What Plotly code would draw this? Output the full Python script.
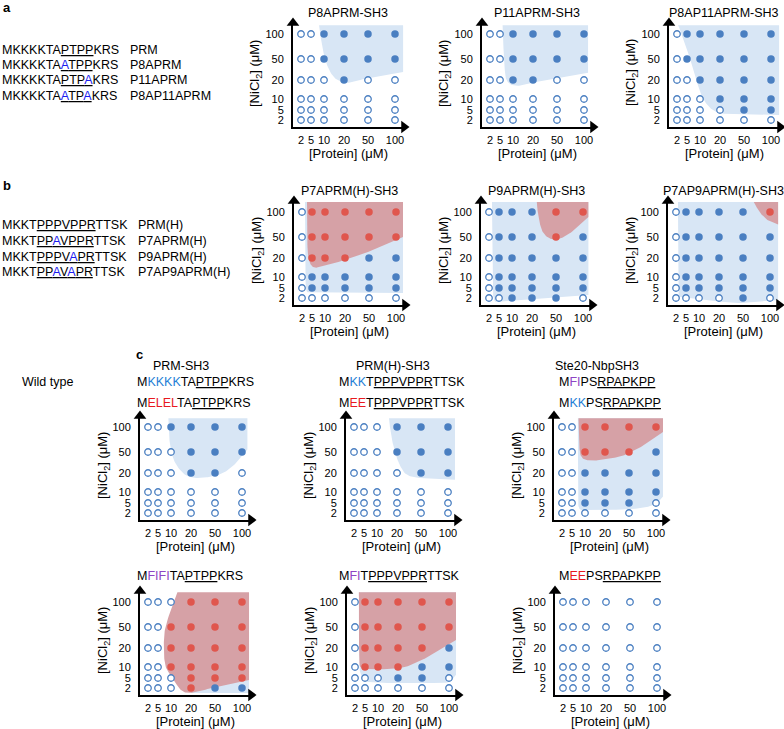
import numpy as np
import plotly.graph_objects as go

W, H = 784, 729
FONT = "Liberation Sans, Arial, Helvetica, sans-serif"

# ------------------------------------------------------------------ data
CONC_TICKS = ["2", "5", "10", "20", "50", "100"]      # protein / NiCl2 (uM)
NICL2_ROWS = ["100", "50", "20", "10", "5", "2"]      # row order of grids below

# peptide sequences
A_SEQS = ["MKKKKTAPTPPKRS", "MKKKKTAATPPKRS", "MKKKKTAPTPAKRS", "MKKKKTAATPAKRS"]
A_NAMES = ["PRM", "P8APRM", "P11APRM", "P8AP11APRM"]
B_SEQS = ["MKKTPPPVPPRTTSK", "MKKTPPAVPPRTTSK", "MKKTPPPVAPRTTSK", "MKKTPPAVAPRTTSK"]
B_NAMES = ["PRM(H)", "P7APRM(H)", "P9APRM(H)", "P7AP9APRM(H)"]

C_TITLES = ["PRM-SH3", "PRM(H)-SH3", "Ste20-NbpSH3"]
C_WILD = ["MKKKKTAPTPPKRS", "MKKTPPPVPPRTTSK", "MFIPSRPAPKPP"]
C_MUT1 = ["MELELTAPTPPKRS", "MEETPPPVPPRTTSK", "MKKPSRPAPKPP"]
C_MUT2 = ["MFIFITAPTPPKRS", "MFITPPPVPPRTTSK", "MEEPSRPAPKPP"]

# phase state grids: 0 = none (open), 1 = droplets (blue), 2 = red phase
STATES = {
    "P8APRM-SH3":       ["001111", "001111", "000100", "000000", "000000", "000000"],
    "P11APRM-SH3":      ["001111", "001111", "001100", "000000", "000000", "000000"],
    "P8AP11APRM-SH3":   ["011111", "011111", "001111", "000111", "000011", "000000"],
    "P7APRM(H)-SH3":    ["022222", "022222", "022211", "011111", "011111", "000000"],
    "P9APRM(H)-SH3":    ["011122", "011121", "011111", "011111", "011111", "001110"],
    "P7AP9APRM(H)-SH3": ["011112", "011111", "011111", "011111", "011111", "000010"],
    "ELEL-PRM":         ["001111", "000111", "000110", "000000", "000000", "000000"],
    "EE-PRM(H)":        ["000111", "000111", "000011", "000000", "000000", "000000"],
    "KK-Ste20":         ["002222", "002221", "001111", "001111", "001110", "000000"],
    "FIFI-PRM":         ["000222", "002222", "002222", "002222", "000222", "000211"],
    "FI-PRM(H)":        ["022222", "022222", "022221", "022211", "000110", "000000"],
    "EE-Ste20":         ["000000", "000000", "000000", "000000", "000000", "000000"],
}

# phase regions in grid units (fractional index along CONC_TICKS: protein, NiCl2)
# each region: (kind, straight edge points, curved boundary points)
REGIONS = {
    "P8APRM-SH3": [("blue", [(1.62, 5.35), (5.3, 5.35), (5.3, 3.38)],
                    [(5.3, 3.38), (4.0, 3.1), (3.2, 2.85), (2.6, 3.05), (2.2, 3.6), (1.9, 4.4), (1.62, 5.35)])],
    "P11APRM-SH3": [("blue", [(1.2, 5.35), (5.15, 5.35), (5.15, 3.35)],
                     [(5.15, 3.35), (3.5, 3.0), (2.3, 2.7), (1.6, 2.9), (1.35, 3.6), (1.2, 5.35)])],
    "P8AP11APRM-SH3": [("blue", [(0.1, 5.35), (5.3, 5.35), (5.3, 0.5)],
                        [(5.3, 0.5), (4.0, 0.55), (3.0, 0.7), (2.4, 1.4), (2.0, 2.4), (1.5, 3.5),
                         (0.9, 4.5), (0.4, 5.1), (0.1, 5.35)])],
    "P7APRM(H)-SH3": [("blue", [(0.3, 5.4), (5.26, 5.4), (5.26, 0.5), (1.2, 0.5)],
                       [(1.2, 0.5), (0.6, 0.55), (0.42, 0.9), (0.35, 2.0), (0.3, 5.4)]),
                      ("red", [(0.5, 5.4), (5.26, 5.4), (5.26, 4.0)],
                       [(5.26, 4.0), (4.2, 3.4), (3.0, 2.9), (2.0, 2.6), (1.2, 2.5), (0.75, 2.8),
                        (0.55, 3.5), (0.5, 5.4)])],
    "P9APRM(H)-SH3": [("blue", [(0.3, 5.4), (5.2, 5.4), (5.2, 0.3)],
                       [(5.2, 0.3), (3.5, 0.0), (1.5, -0.3), (0.75, -0.4), (0.5, -0.1), (0.4, 1.0), (0.3, 5.4)]),
                      ("red", [(3.2, 5.4), (5.2, 5.4), (5.2, 4.8)],
                       [(5.2, 4.8), (4.7, 4.3), (4.2, 3.95), (3.8, 3.9), (3.45, 4.2), (3.27, 4.8), (3.2, 5.4)])],
    "P7AP9APRM(H)-SH3": [("blue", [(0.2, 5.4), (5.3, 5.4), (5.3, -0.2)],
                          [(5.3, -0.2), (4.0, -0.5), (2.7, -0.3), (1.2, 0.0), (0.4, 0.15), (0.25, 1.0), (0.2, 5.4)]),
                         ("red", [(4.4, 5.4), (5.3, 5.4), (5.3, 4.5)],
                          [(5.3, 4.5), (4.95, 4.65), (4.65, 4.95), (4.45, 5.3), (4.4, 5.4)])],
    "ELEL-PRM": [("blue", [(1.8, 5.35), (5.2, 5.35), (5.2, 4.1)],
                  [(5.2, 4.1), (4.8, 3.5), (4.3, 3.0), (3.7, 2.78), (3.1, 2.75), (2.6, 3.0), (2.15, 3.6),
                   (1.9, 4.4), (1.8, 5.35)])],
    "EE-PRM(H)": [("blue", [(2.6, 5.35), (5.26, 5.35), (5.26, 2.65)],
                   [(5.26, 2.65), (4.3, 2.7), (3.5, 2.85), (3.15, 3.3), (2.9, 4.0), (2.7, 4.7), (2.6, 5.35)])],
    "KK-Ste20": [("blue", [(1.45, 5.35), (5.26, 5.35), (5.26, 1.6)],
                  [(5.26, 1.6), (5.0, 0.9), (4.3, 0.45), (3.0, 0.3), (1.8, 0.3), (1.55, 0.6), (1.48, 1.5), (1.45, 5.35)]),
                 ("red", [(1.5, 5.35), (5.26, 5.35), (5.26, 4.8)],
                  [(5.26, 4.8), (4.6, 4.3), (3.8, 3.85), (3.0, 3.65), (2.2, 3.6), (1.7, 3.8), (1.55, 4.4), (1.5, 5.35)])],
    "FIFI-PRM": [("blue", [(3.0, 1.5), (5.26, 1.5), (5.26, -0.5), (3.0, -0.5)],
                  [(3.0, -0.5), (3.0, 1.5)]),
                 ("red", [(2.32, 5.39), (5.26, 5.39), (5.26, 0.8)],
                  [(5.26, 0.8), (4.1, 0.15), (3.03, -0.47), (2.5, -0.2), (2.1, 0.97), (1.6, 2.0), (1.45, 3.0),
                   (1.6, 4.05), (2.32, 5.39)])],
    "FI-PRM(H)": [("blue", [(0.39, 5.39), (5.26, 5.39), (5.26, 1.3)],
                   [(5.26, 1.3), (5.0, 0.6), (4.3, 0.5), (3.0, 0.5), (1.6, 0.55), (1.0, 0.75), (0.6, 1.3),
                    (0.45, 2.2), (0.39, 5.39)]),
                  ("red", [(0.39, 5.39), (5.26, 5.39), (5.26, 3.38)],
                   [(5.26, 3.38), (4.5, 2.75), (4.0, 2.37), (3.3, 2.0), (2.5, 1.82), (1.2, 1.8), (0.6, 1.95),
                    (0.42, 2.6), (0.39, 5.39)])],
    "EE-Ste20": [],
}

# ------------------------------------------------------------------ scale / layout
X_SCALE = [8, 18, 31, 51, 75, 102]   # axis units of the six concentration steps
Y_SCALE = [7, 17, 28, 47, 68, 93]
LX, LY = 114, 107                    # axis lengths (1 unit = 1 px)

PANELS = [  # key, title, axis origin (px)
    ("P8APRM-SH3", "P8APRM-SH3", (293, 127)),
    ("P11APRM-SH3", "P11APRM-SH3", (482, 127)),
    ("P8AP11APRM-SH3", "P8AP11APRM-SH3", (669, 127)),
    ("P7APRM(H)-SH3", "P7APRM(H)-SH3", (294, 305)),
    ("P9APRM(H)-SH3", "P9APRM(H)-SH3", (481, 305)),
    ("P7AP9APRM(H)-SH3", "P7AP9APRM(H)-SH3", (668, 305)),
    ("ELEL-PRM", None, (140, 520)),
    ("EE-PRM(H)", None, (346, 520)),
    ("KK-Ste20", None, (554, 520)),
    ("FIFI-PRM", None, (140, 695)),
    ("FI-PRM(H)", None, (347, 695)),
    ("EE-Ste20", None, (555, 695)),
]

BLUE = "#4a7fc1"
RED = "#e0564d"
REGION_COL = {"blue": "#d8e6f5", "red": "#d6a1a6"}
MUT_A = "#1c1cf0"
RES_COL = {"K": "#1f7fd6", "E": "#e8191f", "L": "#e8191f", "F": "#8e44c4", "I": "#8e44c4"}


def scale(idx, table):
    idx = np.asarray(idx, float)
    t = np.asarray(table, float)
    out = np.interp(idx, np.arange(len(t)), t)
    hi = idx > len(t) - 1
    out[hi] = t[-1] + (idx[hi] - (len(t) - 1)) * (t[-1] - t[-2])
    lo = idx < 0
    out[lo] = t[0] + idx[lo] * (t[1] - t[0])
    return out


def catmull(pts, n=14):
    P = np.asarray(pts, float)
    P = np.vstack([P[0], P, P[-1]])
    out = []
    for k in range(1, len(P) - 2):
        p0, p1, p2, p3 = P[k - 1], P[k], P[k + 1], P[k + 2]
        for t in np.linspace(0, 1, n, endpoint=False):
            out.append(0.5 * (2 * p1 + (-p0 + p2) * t + (2 * p0 - 5 * p1 + 4 * p2 - p3) * t * t
                              + (-p0 + 3 * p1 - 3 * p2 + p3) * t ** 3))
    out.append(P[-2])
    return np.array(out)


def to_px(pts):
    a = np.asarray(pts, float)
    return np.column_stack([scale(a[:, 0], X_SCALE), scale(a[:, 1], Y_SCALE)])


def px(x, y):
    return x / W, 1 - y / H


fig = go.Figure()
annotations = []

for n, (key, title, (ox, oy)) in enumerate(PANELS, start=1):
    sx = "" if n == 1 else str(n)
    xa, ya = "x" + sx, "y" + sx
    fig.layout["xaxis" + sx] = dict(
        domain=[ox / W, (ox + LX) / W], range=[0, LX], anchor=ya,
        showgrid=False, zeroline=False, showline=True, linewidth=2, linecolor="black",
        ticks="", tickvals=X_SCALE, ticktext=CONC_TICKS, tickangle=0,
        tickfont=dict(family=FONT, size=11, color="black"), ticklabelstandoff=2,
        fixedrange=True)
    fig.layout["yaxis" + sx] = dict(
        domain=[1 - oy / H, 1 - (oy - LY) / H], range=[0, LY], anchor=xa,
        showgrid=False, zeroline=False, showline=True, linewidth=2, linecolor="black",
        ticks="", tickvals=Y_SCALE, ticktext=CONC_TICKS,
        tickfont=dict(family=FONT, size=11, color="black"), ticklabelstandoff=5,
        fixedrange=True)

    # regions
    for kind, edge, curve in REGIONS[key]:
        e = to_px(edge)
        c = catmull(to_px(curve))
        poly = np.vstack([e[:-1], c])
        fig.add_trace(go.Scatter(x=poly[:, 0], y=poly[:, 1], mode="lines", fill="toself",
                                 fillcolor=REGION_COL[kind], line=dict(width=0),
                                 hoverinfo="skip", showlegend=False, xaxis=xa, yaxis=ya))

    # dots
    grid = STATES[key]
    pts = {0: ([], []), 1: ([], []), 2: ([], [])}
    for r, row in enumerate(grid):
        yi = CONC_TICKS.index(NICL2_ROWS[r])
        for ci, s in enumerate(row):
            pts[int(s)][0].append(X_SCALE[ci])
            pts[int(s)][1].append(Y_SCALE[yi])
    fig.add_trace(go.Scatter(x=pts[0][0], y=pts[0][1], mode="markers", xaxis=xa, yaxis=ya,
                             marker=dict(size=6.5, color="white", line=dict(color=BLUE, width=1.3)),
                             hoverinfo="skip", showlegend=False, cliponaxis=False))
    fig.add_trace(go.Scatter(x=pts[1][0], y=pts[1][1], mode="markers", xaxis=xa, yaxis=ya,
                             marker=dict(size=7.5, color=BLUE, line=dict(width=0)),
                             hoverinfo="skip", showlegend=False, cliponaxis=False))
    fig.add_trace(go.Scatter(x=pts[2][0], y=pts[2][1], mode="markers", xaxis=xa, yaxis=ya,
                             marker=dict(size=7.5, color=RED, line=dict(width=0)),
                             hoverinfo="skip", showlegend=False, cliponaxis=False))

    # arrow heads on the axes
    fig.add_trace(go.Scatter(x=[LX - 3], y=[0], mode="markers", xaxis=xa, yaxis=ya,
                             marker=dict(symbol="triangle-right", size=11, color="black"),
                             hoverinfo="skip", showlegend=False, cliponaxis=False))
    fig.add_trace(go.Scatter(x=[0], y=[LY - 3], mode="markers", xaxis=xa, yaxis=ya,
                             marker=dict(symbol="triangle-up", size=11, color="black"),
                             hoverinfo="skip", showlegend=False, cliponaxis=False))

    # axis titles
    x0, y0 = px(ox + 55, oy + 26)
    annotations.append(dict(x=x0, y=y0, xref="paper", yref="paper", text="[Protein] (\u03bcM)",
                            showarrow=False, font=dict(family=FONT, size=13, color="black"),
                            xanchor="center", yanchor="middle"))
    x0, y0 = px(ox - 37, oy - 54)
    annotations.append(dict(x=x0, y=y0, xref="paper", yref="paper",
                            text="[NiCl<sub>2</sub>] (\u03bcM)", textangle=-90,
                            showarrow=False, font=dict(family=FONT, size=13, color="black"),
                            xanchor="center", yanchor="middle"))
    if title:
        x0, y0 = px(ox + 55, oy - 114)
        annotations.append(dict(x=x0, y=y0, xref="paper", yref="paper", text=title,
                                showarrow=False, font=dict(family=FONT, size=12.5, color="black"),
                                xanchor="center", yanchor="middle"))


def seq_html(seq, colors, ul):
    out = ""
    for i, ch in enumerate(seq):
        if i == ul[0]:
            out += "<u>"
        col = colors.get(i)
        out += f'<span style="color:{col}">{ch}</span>' if col else ch
        if i == ul[1]:
            out += "</u>"
    return out


def text(x, y, s, size=12.5, anchor="left", bold=False):
    x0, y0 = px(x, y)
    if bold:
        s = f"<b>{s}</b>"
    annotations.append(dict(x=x0, y=y0, xref="paper", yref="paper", text=s, showarrow=False,
                            font=dict(family=FONT, size=size, color="black"),
                            xanchor=anchor, yanchor="middle"))


# panel a / b sequence lists
for seqs, names, ys, name_x, ul in [
        (A_SEQS, A_NAMES, [50, 65, 80, 96], 128, (7, 10)),
        (B_SEQS, B_NAMES, [225, 241, 257, 272], 136, (4, 10))]:
    wt = seqs[0]
    for s, nm, y in zip(seqs, names, ys):
        cols = {i: MUT_A for i, (a, b) in enumerate(zip(s, wt)) if a != b}
        text(0, y, seq_html(s, cols, ul))
        text(name_x, y, nm)

# panel c sequences
C_BLOCK = [4, 2, 2]
C_UL = [(7, 10), (4, 10), (5, 11)]
C_X = [135, 337, 557]
C_TITLE_X = [181, 393, 597]
for k in range(3):
    def cols_for(s):
        return {i: RES_COL[s[i]] for i in range(1, 1 + C_BLOCK[k]) if s[i] in RES_COL}
    text(C_TITLE_X[k], 366, C_TITLES[k], anchor="center")
    text(C_X[k], 382, seq_html(C_WILD[k], cols_for(C_WILD[k]), C_UL[k]))
    text(C_X[k], 403, seq_html(C_MUT1[k], cols_for(C_MUT1[k]), C_UL[k]))
    text(C_X[k], 576, seq_html(C_MUT2[k], cols_for(C_MUT2[k]), C_UL[k]))
text(20, 382, "Wild type")

text(1, 8, "a", size=13, bold=True)
text(1, 186, "b", size=13, bold=True)
text(134, 354, "c", size=13, bold=True)

fig.update_layout(width=W, height=H, autosize=False, margin=dict(l=0, r=0, t=0, b=0),
                  paper_bgcolor="white", plot_bgcolor="rgba(0,0,0,0)", showlegend=False,
                  annotations=annotations, font=dict(family=FONT))

fig.write_html("out.html", config={"displayModeBar": False},
               post_script="document.body.style.margin='0';document.body.style.overflow='hidden';")
